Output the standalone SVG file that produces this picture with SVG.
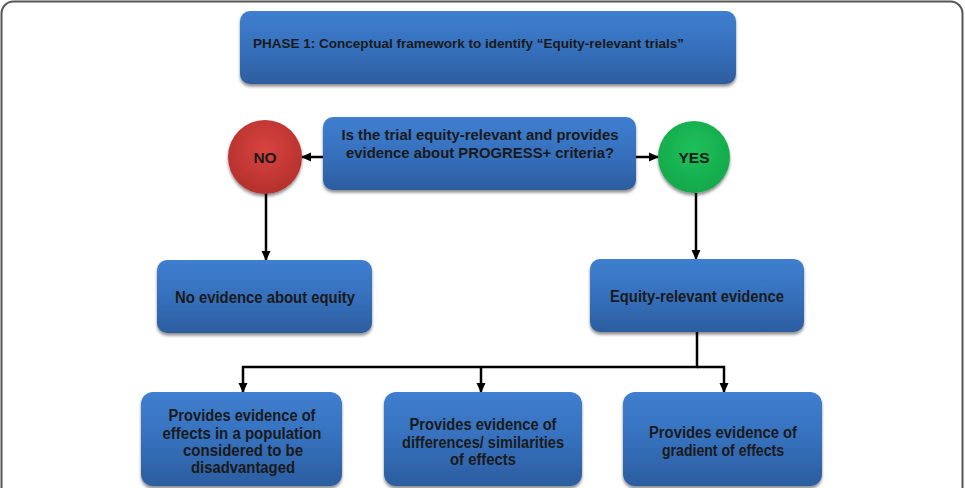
<svg xmlns="http://www.w3.org/2000/svg" width="965" height="488" viewBox="0 0 965 488">
<defs>
<linearGradient id="blue" x1="0" y1="0" x2="0" y2="1">
<stop offset="0" stop-color="#3f7fd0"/>
<stop offset="0.5" stop-color="#3670bd"/>
<stop offset="1" stop-color="#2c5d9f"/>
</linearGradient>
<radialGradient id="red" cx="0.5" cy="0.4" r="0.6">
<stop offset="0" stop-color="#d8443f"/>
<stop offset="1" stop-color="#b5302d"/>
</radialGradient>
<radialGradient id="green" cx="0.5" cy="0.4" r="0.6">
<stop offset="0" stop-color="#1fc05a"/>
<stop offset="1" stop-color="#14a84b"/>
</radialGradient>
<filter id="sh" x="-10%" y="-10%" width="120%" height="130%">
<feDropShadow dx="0" dy="2.5" stdDeviation="1.5" flood-color="#000" flood-opacity="0.45"/>
</filter>
<marker id="ah" markerWidth="10" markerHeight="10" refX="9" refY="5" orient="auto" markerUnits="userSpaceOnUse">
<path d="M0,0.5 L10,5 L0,9.5 Z" fill="#000"/>
</marker>
</defs>
<style>
.box{fill:url(#blue);filter:url(#sh)}
.t{font-family:"Liberation Sans",Arial,sans-serif;font-weight:bold;fill:#1a1a1a;text-anchor:middle}
.c{stroke:#000;stroke-width:2.5;fill:none}
</style>
<rect x="1.5" y="1.5" width="961" height="520" rx="12" fill="#fff" stroke="#555" stroke-width="2"/>
<g id="connectors">
<line class="c" x1="323" y1="157" x2="302" y2="157" marker-end="url(#ah)"/>
<line class="c" x1="636" y1="157" x2="658" y2="157" marker-end="url(#ah)"/>
<line class="c" x1="266" y1="193" x2="266" y2="260" marker-end="url(#ah)"/>
<line class="c" x1="696" y1="193" x2="696" y2="259" marker-end="url(#ah)"/>
<path class="c" d="M697,332 V367 H243 V392" marker-end="url(#ah)"/>
<path class="c" d="M481,367 V392" marker-end="url(#ah)"/>
<path class="c" d="M697,367 H724 V392" marker-end="url(#ah)"/>
</g>
<g id="phase">
<rect class="box" x="240" y="11" width="496" height="73" rx="10"/>
<text class="t" x="253" y="48" font-size="12.5" style="text-anchor:start" textLength="431" lengthAdjust="spacingAndGlyphs">PHASE 1: Conceptual framework to identify “Equity-relevant trials”</text>
</g>
<g id="question">
<rect class="box" x="323" y="117" width="313" height="73" rx="10"/>
<text class="t" x="480" y="140" font-size="14.5" textLength="277" lengthAdjust="spacingAndGlyphs">Is the trial equity-relevant and provides</text>
<text class="t" x="480" y="158" font-size="14.5" textLength="268" lengthAdjust="spacingAndGlyphs">evidence about PROGRESS+ criteria?</text>
</g>
<g id="no">
<circle cx="265" cy="157" r="37" fill="url(#red)" filter="url(#sh)"/>
<text class="t" x="265" y="163" font-size="15.5">NO</text>
</g>
<g id="yes">
<circle cx="694" cy="157" r="36" fill="url(#green)" filter="url(#sh)"/>
<text class="t" x="694" y="163" font-size="15.5">YES</text>
</g>
<g id="noevidence">
<rect class="box" x="157" y="260" width="215" height="73" rx="10"/>
<text class="t" x="265" y="302.5" font-size="16" textLength="180" lengthAdjust="spacingAndGlyphs">No evidence about equity</text>
</g>
<g id="equityevidence">
<rect class="box" x="590" y="259" width="214" height="73" rx="10"/>
<text class="t" x="697" y="301.5" font-size="16" textLength="174" lengthAdjust="spacingAndGlyphs">Equity-relevant evidence</text>
</g>
<g id="disadvantaged">
<rect class="box" x="141" y="392" width="201" height="94" rx="12"/>
<text class="t" x="242" y="420.5" font-size="16" textLength="147" lengthAdjust="spacingAndGlyphs">Provides evidence of</text>
<text class="t" x="242" y="438.5" font-size="16" textLength="159" lengthAdjust="spacingAndGlyphs">effects in a population</text>
<text class="t" x="243" y="455.5" font-size="16" textLength="120" lengthAdjust="spacingAndGlyphs">considered to be</text>
<text class="t" x="243" y="472.5" font-size="16" textLength="104" lengthAdjust="spacingAndGlyphs">disadvantaged</text>
</g>
<g id="differences">
<rect class="box" x="384" y="392" width="198" height="94" rx="12"/>
<text class="t" x="483" y="429.5" font-size="16" textLength="147" lengthAdjust="spacingAndGlyphs">Provides evidence of</text>
<text class="t" x="483" y="447.5" font-size="16" textLength="162" lengthAdjust="spacingAndGlyphs">differences/ similarities</text>
<text class="t" x="483" y="464.5" font-size="16" textLength="66" lengthAdjust="spacingAndGlyphs">of effects</text>
</g>
<g id="gradient">
<rect class="box" x="623" y="392" width="199" height="94" rx="12"/>
<text class="t" x="723" y="437.5" font-size="16" textLength="148" lengthAdjust="spacingAndGlyphs">Provides evidence of</text>
<text class="t" x="723" y="455.5" font-size="16" textLength="122" lengthAdjust="spacingAndGlyphs">gradient of effects</text>
</g>
</svg>
